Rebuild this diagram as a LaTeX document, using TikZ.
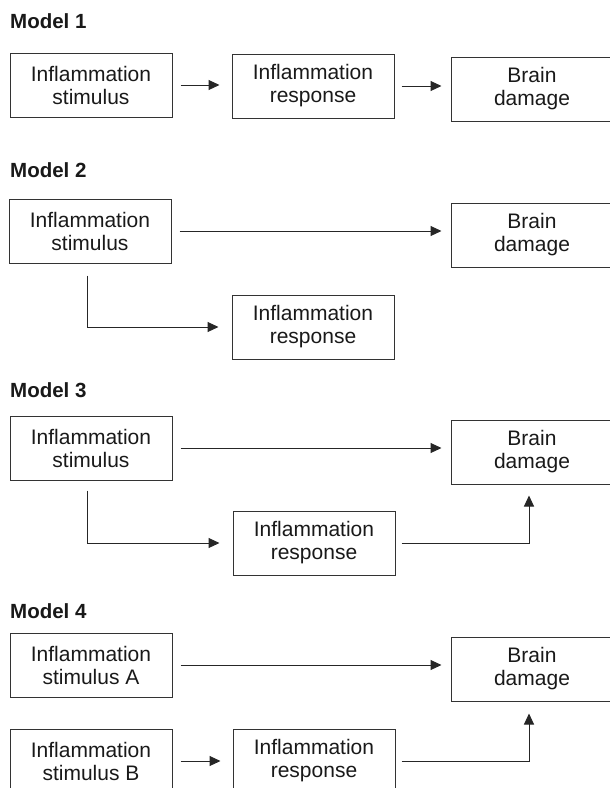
\documentclass[tikz,border=0pt]{standalone}
\usepackage{fontspec}
\setmainfont{Liberation Sans}
\usetikzlibrary{arrows.meta}

\begin{document}
\begin{tikzpicture}[x=1pt, y=-1pt,
    box/.style={draw=black!80, line width=1pt, text=black!90, align=center,
      minimum width=162pt, minimum height=64pt, inner sep=0pt,
      font=\fontsize{21}{23}\selectfont},
    title/.style={anchor=base west, inner sep=0pt, text=black!90,
      font=\fontsize{20.5}{24}\selectfont\bfseries},
    arr/.style={draw=black!85, line width=1pt, -{Triangle[length=11pt,width=10pt]}}]
  \useasboundingbox (0,0) rectangle (610,788);
  \clip (0,0) rectangle (610,788);

  % Model 1
  \node[title] (t1) at (10,28) {Model 1};
  \node[box] (s1) at (91,85) {Inflammation\\stimulus};
  \node[box] (r1) at (313,86) {Inflammation\\response};
  \node[box] (d1) at (532,89) {Brain\\damage};
  \draw[arr] ([xshift=8pt]s1.east) -- ([xshift=-12pt]s1.east -| r1.west);
  \draw[arr] ([xshift=7pt]r1.east) -- ([xshift=-9pt]r1.east -| d1.west);

  % Model 2
  \node[title] (t2) at (10,177) {Model 2};
  \node[box] (s2) at (90,231) {Inflammation\\stimulus};
  \node[box] (d2) at (532,235) {Brain\\damage};
  \node[box] (r2) at (313,327) {Inflammation\\response};
  \draw[arr] ([xshift=8pt]s2.east) -- ([xshift=-9pt]s2.east -| d2.west);
  \draw[arr] ([shift={(-3,12)}]s2.south) |- ([xshift=-13pt]r2.west);

  % Model 3
  \node[title] (t3) at (10,397) {Model 3};
  \node[box] (s3) at (91,448) {Inflammation\\stimulus};
  \node[box] (d3) at (532,452) {Brain\\damage};
  \node[box] (r3) at (314,543) {Inflammation\\response};
  \draw[arr] ([xshift=8pt]s3.east) -- ([xshift=-9pt]s3.east -| d3.west);
  \draw[arr] ([shift={(-4,10)}]s3.south) |- ([xshift=-13pt]r3.west);
  \draw[arr] ([xshift=6pt]r3.east) -| ([shift={(-3,11)}]d3.south);

  % Model 4
  \node[title] (t4) at (10,618) {Model 4};
  \node[box] (sa4) at (91,665) {Inflammation\\stimulus A};
  \node[box] (d4) at (532,669) {Brain\\damage};
  \node[box] (sb4) at (91,761) {Inflammation\\stimulus B};
  \node[box] (r4) at (314,761) {Inflammation\\response};
  \draw[arr] ([xshift=8pt]sa4.east) -- ([xshift=-9pt]sa4.east -| d4.west);
  \draw[arr] ([xshift=8pt]sb4.east) -- ([xshift=-12pt]sb4.east -| r4.west);
  \draw[arr] ([xshift=6pt]r4.east) -| ([shift={(-3,12)}]d4.south);
\end{tikzpicture}
\end{document}
